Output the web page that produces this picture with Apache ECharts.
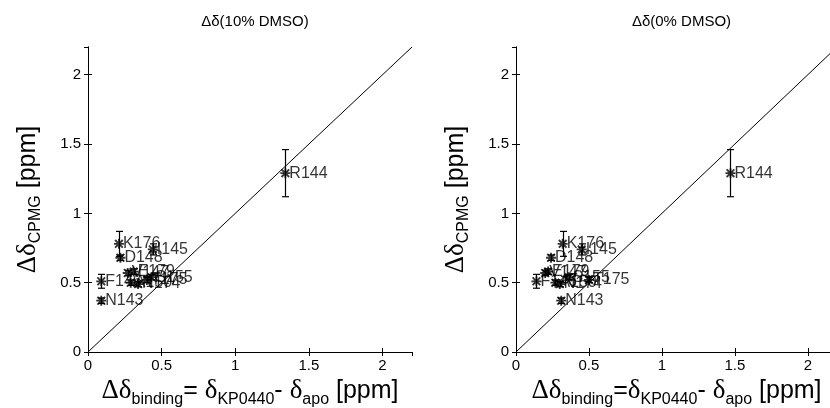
<!DOCTYPE html>
<html>
<head>
<meta charset="utf-8">
<script src="https://cdn.jsdelivr.net/npm/echarts@6/dist/echarts.min.js"></script>
<style>
  html, body { margin: 0; padding: 0; background: #fff; }
  #chart { width: 830px; height: 408px; }
</style>
</head>
<body>
<div id="chart"></div>
<script>
// Residue labels and chemical-shift differences (ppm)
const residues       = ['R144', 'K176', 'I145', 'D148', 'V147', 'E179', 'S155', 'F146', 'A150', 'N174', 'T175', 'N143'];
const cpmgShift      = [1.29,   0.78,   0.74,   0.68,   0.57,   0.58,   0.54,   0.51,   0.50,   0.49,   0.52,   0.37];
const cpmgError      = [0.17,   0.09,   0.04,   0.02,   0.02,   0.02,   0.02,   0.05,   0.02,   0.02,   0.02,   0.02];
const bindingShift10 = [1.34,   0.21,   0.44,   0.22,   0.27,   0.31,   0.43,   0.09,   0.29,   0.34,   0.40,   0.09];
const bindingShift0  = [1.47,   0.32,   0.45,   0.24,   0.20,   0.22,   0.36,   0.14,   0.27,   0.30,   0.50,   0.31];

const panelTitles = ['Δδ(10% DMSO)', 'Δδ(0% DMSO)'];
const axisMin = 0;
const axisMax = 2.2;
const tickStep = 0.5;
const identityLine = [[0, 0], [2.2, 2.2]];

const SANS = '"Liberation Sans", Arial, Helvetica, sans-serif';
const SERIF = '"Liberation Serif", "Times New Roman", serif';

// Eight-armed asterisk marker
const STAR = 'path://M0,4.1L10,4.1L10,5.9L0,5.9Z M4.1,0L5.9,0L5.9,10L4.1,10Z ' +
             'M1.8,0.5L9.5,8.2L8.2,9.5L0.5,1.8Z M8.2,0.5L9.5,1.8L1.8,9.5L0.5,8.2Z';

// Fixed plot boxes; the right panel deliberately runs past the canvas edge
const grids = [
  { left: 88,  top: 47, width: 324, height: 305, outerBoundsMode: 'none', containLabel: false },
  { left: 516, top: 47, width: 321, height: 305, outerBoundsMode: 'none', containLabel: false }
];

const richLabel = {
  d: { fontFamily: SERIF, fontSize: 27, color: '#000' },
  n: { fontFamily: SANS, fontSize: 25, color: '#000' },
  s: { fontFamily: SANS, fontSize: 16, color: '#000', padding: [16, 0, 0, 0] }
};

const xNames = [
  '{d|Δδ}{s|binding}{n|= }{d|δ}{s|KP0440}{n|- }{d|δ}{s|apo}{n| [ppm]}',
  '{d|Δδ}{s|binding}{n|=}{d|δ}{s|KP0440}{n|- }{d|δ}{s|apo}{n| [ppm]}'
];
const yName = '{d|Δδ}{s|CPMG}{n| [ppm]}';

const xAxes = [], yAxes = [], series = [], titles = [];

function baseAxis(gridIndex) {
  return {
    type: 'value', gridIndex, min: axisMin, max: axisMax, interval: tickStep,
    axisLine: { show: true, lineStyle: { color: '#000', width: 1 } },
    axisTick: { show: true, inside: true, length: 4, lineStyle: { color: '#000', width: 1 } },
    splitLine: { show: false },
    axisLabel: { show: false }
  };
}

[bindingShift10, bindingShift0].forEach((xs, p) => {
  // bottom / left axes with labels
  xAxes.push(Object.assign(baseAxis(p), {
    position: 'bottom',
    axisLabel: { show: true, color: '#000', fontFamily: SANS, fontSize: 15, margin: 6, showMaxLabel: false },
    name: xNames[p], nameLocation: 'middle', nameGap: 22,
    nameTextStyle: { rich: richLabel }
  }));
  yAxes.push(Object.assign(baseAxis(p), {
    position: 'left',
    axisLabel: { show: true, color: '#000', fontFamily: SANS, fontSize: 15, margin: 7, showMaxLabel: false },
    name: yName, nameLocation: 'middle', nameGap: 44,
    nameTextStyle: { rich: richLabel }
  }));
  // top / right box edges
  xAxes.push(Object.assign(baseAxis(p), { position: 'top' }));
  yAxes.push(Object.assign(baseAxis(p), { position: 'right' }));

  const xi = p * 2, yi = p * 2;

  series.push({
    type: 'line', xAxisIndex: xi, yAxisIndex: yi,
    data: identityLine, symbol: 'none', silent: true,
    lineStyle: { color: '#000', width: 1 }, z: 1
  });

  series.push({
    type: 'custom', xAxisIndex: xi, yAxisIndex: yi, silent: true, z: 2,
    data: xs.map((x, i) => [x, cpmgShift[i] - cpmgError[i], cpmgShift[i] + cpmgError[i]]),
    encode: { x: 0, y: [1, 2] },
    renderItem(params, api) {
      const lo = api.coord([api.value(0), api.value(1)]);
      const hi = api.coord([api.value(0), api.value(2)]);
      const cx = Math.round(lo[0]) + 0.5;
      const w = 3.5;
      const st = { stroke: '#000', lineWidth: 1.2 };
      return {
        type: 'group',
        children: [
          { type: 'line', shape: { x1: cx, y1: lo[1], x2: cx, y2: hi[1] }, style: st },
          { type: 'line', shape: { x1: cx - w, y1: hi[1], x2: cx + w, y2: hi[1] }, style: st },
          { type: 'line', shape: { x1: cx - w, y1: lo[1], x2: cx + w, y2: lo[1] }, style: st }
        ]
      };
    }
  });

  series.push({
    type: 'scatter', xAxisIndex: xi, yAxisIndex: yi, z: 3,
    data: xs.map((x, i) => [x, cpmgShift[i], residues[i]]),
    symbol: STAR, symbolSize: 10,
    itemStyle: { color: '#000' },
    label: {
      show: true, position: 'right', distance: -1,
      formatter: (d) => d.value[2],
      color: '#000', fontFamily: SANS, fontSize: 16
    }
  });

  titles.push({
    text: panelTitles[p],
    left: grids[p].left + grids[p].width / 2, top: 9, textAlign: 'center',
    textStyle: { color: '#000', fontFamily: SANS, fontSize: 15, fontWeight: 'normal' }
  });
});

const chart = echarts.init(document.getElementById('chart'), null, { renderer: 'canvas' });
chart.setOption({
  animation: false,
  backgroundColor: '#fff',
  title: titles,
  grid: grids,
  xAxis: xAxes,
  yAxis: yAxes,
  series
});
</script>
</body>
</html>
